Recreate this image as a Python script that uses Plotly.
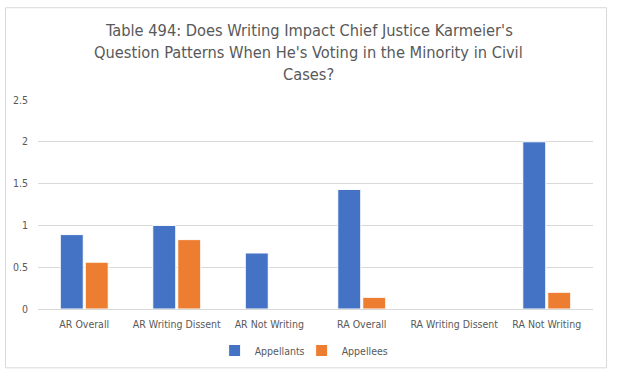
import plotly.graph_objects as go

categories = ["AR Overall", "AR Writing Dissent", "AR Not Writing", "RA Overall", "RA Writing Dissent", "RA Not Writing"]
appellants = [0.89, 1.0, 0.67, 1.43, None, 2.0]
appellees = [0.56, 0.83, None, 0.14, None, 0.2]
y_ticks = [0, 0.5, 1, 1.5, 2, 2.5]
y_tick_labels = ["0", "0.5", "1", "1.5", "2", "2.5"]
title_lines = ["Table 494: Does Writing Impact Chief Justice Karmeier's",
               "Question Patterns When He's Voting in the Minority in Civil",
               "Cases?"]

font_family = "'DejaVu Sans Condensed', 'DejaVu Sans', sans-serif"
gray = "#595959"

fig = go.Figure()
fig.add_trace(go.Bar(x=categories, y=appellants, name="Appellants",
                     marker=dict(color="#4472C4", line=dict(color="white", width=1))))
fig.add_trace(go.Bar(x=categories, y=appellees, name="Appellees",
                     marker=dict(color="#ED7D31", line=dict(color="white", width=1))))

H = 379
title_centers = [30, 52.3, 74.5]
annotations = []
for line, yc in zip(title_lines, title_centers):
    annotations.append(dict(text=line, xref="paper", x=0.488, xanchor="center",
                            yref="paper", y=(309.5 - yc) / 209.5, yanchor="middle",
                            showarrow=False,
                            font=dict(family=font_family, size=16.3, color=gray)))

fig.update_layout(
    width=620, height=H,
    paper_bgcolor="white", plot_bgcolor="white",
    margin=dict(l=38, r=27, t=100, b=69.5, autoexpand=False),
    barmode="group", bargap=0.46, bargroupgap=0.08,
    font=dict(family=font_family, size=10.5, color=gray),
    showlegend=True,
    legend=dict(orientation="h", x=0.475, xref="paper", xanchor="center",
                y=1 - 350.5 / H, yref="container", yanchor="middle",
                font=dict(size=10.5, color=gray), itemwidth=30,
                entrywidth=42, traceorder="normal"),
    xaxis=dict(showgrid=False, showline=True, linecolor="#d9d9d9", linewidth=1,
               ticks="", tickangle=0, automargin=False, ticklabelstandoff=5,
               tickfont=dict(size=10.5, color=gray)),
    yaxis=dict(range=[0, 2.5], tickvals=y_ticks, ticktext=y_tick_labels,
               showgrid=True, gridcolor="#d9d9d9", gridwidth=1,
               zeroline=False, showline=False, ticks="", ticklabelstandoff=9,
               automargin=False, tickfont=dict(size=10.5, color=gray)),
    annotations=annotations,
    shapes=[dict(type="rect", xref="paper", yref="paper",
                 x0=(5.5 - 38) / 555, x1=(606.5 - 38) / 555,
                 y0=-(368.5 - 309.5) / 209.5, y1=(309.5 - 7.5) / 209.5,
                 line=dict(color="#d9d9d9", width=1), fillcolor="rgba(0,0,0,0)",
                 layer="below")],
)

fig.write_html("out.html")
